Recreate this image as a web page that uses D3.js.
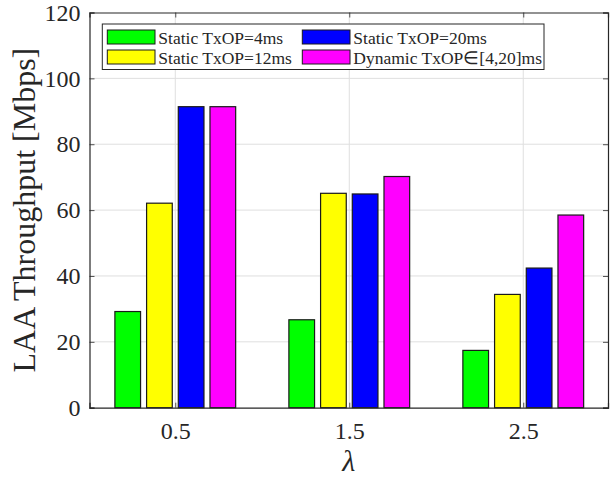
<!DOCTYPE html>
<html><head><meta charset="utf-8">
<script src="https://cdn.jsdelivr.net/npm/d3@7"></script>
<style>body{margin:0;background:#fff}svg{display:block}text{font-family:"Liberation Serif","Times New Roman",serif;fill:#262626}</style>
</head><body>
<svg id="chart" width="614" height="477"></svg>
<script>
const categories = [0.5, 1.5, 2.5];
const seriesNames = ["Static TxOP=4ms", "Static TxOP=12ms", "Static TxOP=20ms", "Dynamic TxOP\u2208[4,20]ms"];
const seriesColors = ["#00ff00", "#ffff00", "#0000ff", "#ff00ff"];
const tx4 = [29.2, 26.7, 17.4];
const tx12 = [62.1, 65.1, 34.4];
const tx20 = [91.4, 64.9, 42.4];
const dyn = [91.4, 70.2, 58.5];
const yTicks = [0, 20, 40, 60, 80, 100, 120];
const xTicks = [0.5, 1.5, 2.5];

const values = [tx4, tx12, tx20, dyn];
const svg = d3.select("#chart");
const L = 89.5, R = 608, T = 12.5, B = 407.7;
const x = d3.scaleLinear().domain([0.007, 2.987]).range([L, R]);
const y = d3.scaleLinear().domain([0, 120]).range([B, T]);
const sub = d3.scaleBand().domain(d3.range(4)).range([-0.3644, 0.3644]).paddingInner(0.19).paddingOuter(0.095);

const g = svg.append("g");
// grid
g.append("g").selectAll("line").data(yTicks.slice(1, -1)).join("line")
  .attr("x1", L).attr("x2", R).attr("y1", d => y(d)).attr("y2", d => y(d))
  .attr("stroke", "#dfdfdf").attr("stroke-width", 1);
g.append("g").selectAll("line").data(xTicks).join("line")
  .attr("y1", T).attr("y2", B).attr("x1", d => x(d)).attr("x2", d => x(d))
  .attr("stroke", "#dfdfdf").attr("stroke-width", 1);

// bars
values.forEach((vals, si) => {
  g.append("g").selectAll("rect").data(categories).join("rect")
    .attr("x", (c) => x(c + sub(si)))
    .attr("width", x(sub.bandwidth()) - x(0))
    .attr("y", (c, i) => y(vals[i]))
    .attr("height", (c, i) => y(0) - y(vals[i]))
    .attr("fill", seriesColors[si])
    .attr("stroke", "#1a1a1a").attr("stroke-width", 1.2);
});

// axes (inward ticks, box)
const tickLen = 5;
const axL = d3.axisLeft(y).tickValues(yTicks).tickSize(-tickLen).tickPadding(9);
const axB = d3.axisBottom(x).tickValues(xTicks).tickSize(-tickLen).tickPadding(14);
const gl = svg.append("g").attr("transform", `translate(${L},0)`).call(axL);
const gb = svg.append("g").attr("transform", `translate(0,${B})`).call(axB);
const gt = svg.append("g").attr("transform", `translate(0,${T})`).call(d3.axisTop(x).tickValues(xTicks).tickSize(-tickLen).tickFormat(""));
const gr = svg.append("g").attr("transform", `translate(${R},0)`).call(d3.axisRight(y).tickValues(yTicks).tickSize(-tickLen).tickFormat(""));
[gl, gb, gt, gr].forEach(a => {
  a.select(".domain").attr("stroke", "#262626").attr("stroke-width", 1.2);
  a.selectAll(".tick line").attr("stroke", "#262626").attr("stroke-width", 0.8);
  a.selectAll("text").attr("font-family", "Liberation Serif").attr("font-size", 24).attr("fill", "#262626");
});

// axis labels
svg.append("text").attr("transform", `translate(35,${(T + B) / 2}) rotate(-90)`)
  .attr("text-anchor", "middle").attr("font-size", 32).text("LAA Throughput [Mbps]");
svg.append("text").attr("x", (L + R) / 2).attr("y", 471).attr("text-anchor", "middle")
  .attr("font-size", 30).attr("font-style", "italic").text("\u03bb");

// legend
const lg = svg.append("g");
lg.append("rect").attr("x", 102.3).attr("y", 24).attr("width", 441.7).attr("height", 45.5)
  .attr("fill", "#fff").attr("stroke", "#262626").attr("stroke-width", 1);
const cols = [107.3, 302.3], rows = [30, 50];
seriesNames.forEach((name, si) => {
  const col = si >= 2 ? 1 : 0;
  const row = si % 2;
  const xx = cols[col], yy = rows[row];
  lg.append("rect").attr("x", xx).attr("y", yy).attr("width", 47.7).attr("height", 14)
    .attr("fill", seriesColors[si]).attr("stroke", "#1a1a1a").attr("stroke-width", 1);
  lg.append("text").attr("x", xx + 51).attr("y", yy + 14).attr("font-size", 17.5).text(name);
});
</script>
</body></html>
